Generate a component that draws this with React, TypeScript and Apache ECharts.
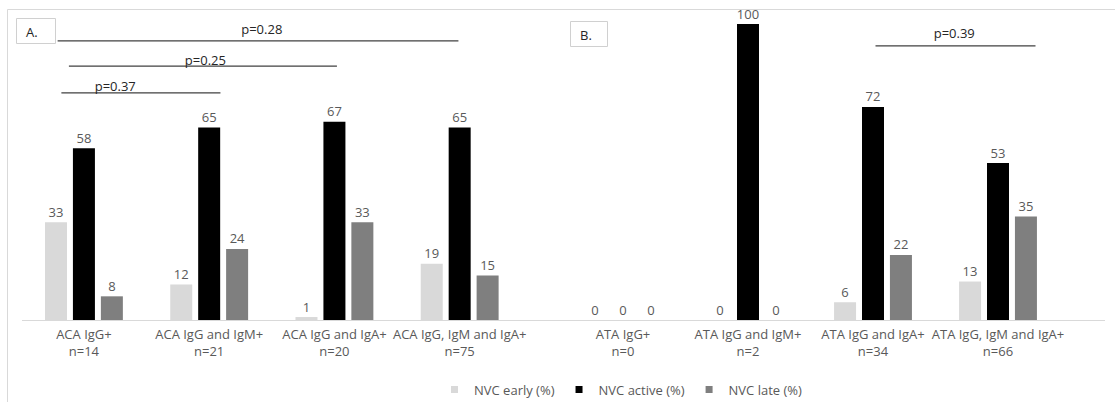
import React, { useEffect, useRef } from "react";
import * as echarts from "echarts";

const groupsA = ["ACA IgG+", "ACA IgG and IgM+", "ACA IgG and IgA+", "ACA IgG, IgM and IgA+"];
const countsA = [14, 21, 20, 75];
const groupsB = ["ATA IgG+", "ATA IgG and IgM+", "ATA IgG and IgA+", "ATA IgG, IgM and IgA+"];
const countsB = [0, 2, 34, 66];

const seriesNames = ["NVC early (%)", "NVC active (%)", "NVC late (%)"];
const earlyA = [33, 12, 1, 19];
const activeA = [58, 65, 67, 65];
const lateA = [8, 24, 33, 15];
const earlyB = [0, 0, 6, 13];
const activeB = [0, 100, 72, 53];
const lateB = [0, 0, 22, 35];

// significance annotations: panel, line from/to (category position), line level, label, label position
const pPanels = [0, 0, 0, 1];
const pFrom = [-0.21, -0.12, -0.18, 2.02];
const pTo = [2.99, 2.02, 1.09, 3.3];
const pLevel = [94.3, 85.8, 76.7, 92.6];
const pLabels = ["p=0.28", "p=0.25", "p=0.37", "p=0.39"];
const pLabelX = [1.42, 0.97, 0.25, 2.65];
const pLabelY = [98.3, 87.8, 79.0, 97.0];

const COLORS = ["#d9d9d9", "#000000", "#7f7f7f"];
const FONT = "'Open Sans', sans-serif";
const TXT = "#595959";

export default function App() {
  const ref = useRef<HTMLDivElement>(null);
  useEffect(() => {
    if (!ref.current) return;
    const chart = echarts.init(ref.current, undefined, { renderer: "svg" });
    const catsA = groupsA.map((g, i) => `${g}\nn=${countsA[i]}`);
    const catsB = groupsB.map((g, i) => `${g}\nn=${countsB[i]}`);
    const dataA = [earlyA, activeA, lateA];
    const dataB = [earlyB, activeB, lateB];

    const xAxisCommon = {
      type: "category" as const,
      axisLine: { show: false },
      axisTick: { show: false },
      axisLabel: {
        color: TXT,
        fontFamily: FONT,
        fontSize: 13,
        lineHeight: 17,
        margin: 5,
        interval: 0,
      },
    };
    const yAxisCommon = {
      type: "value" as const,
      min: 0,
      max: 100,
      show: false,
      splitLine: { show: false },
    };
    const label = {
      show: true,
      position: "top" as const,
      color: TXT,
      fontFamily: FONT,
      fontSize: 13,
      distance: 4,
    };

    const series: any[] = [];
    [dataA, dataB].forEach((d, g) => {
      d.forEach((vals, s) => {
        series.push({
          type: "bar",
          name: seriesNames[s],
          xAxisIndex: g,
          yAxisIndex: g,
          data: vals,
          barWidth: 22,
          barGap: "27%",
          itemStyle: { color: COLORS[s] },
          label,
        });
      });
    });

    chart.setOption({
      animation: false,
      backgroundColor: "#ffffff",
      textStyle: { fontFamily: FONT },
      grid: [
        { left: 21.3, width: 501, top: 24, bottom: 82 },
        { left: 560.5, width: 500, top: 24, bottom: 82 },
      ],
      xAxis: [
        { ...xAxisCommon, gridIndex: 0, data: catsA },
        { ...xAxisCommon, gridIndex: 1, data: catsB },
      ],
      yAxis: [
        { ...yAxisCommon, gridIndex: 0 },
        { ...yAxisCommon, gridIndex: 1 },
      ],
      legend: {
        data: seriesNames,
        left: 446,
        top: 378,
        itemWidth: 7,
        itemHeight: 7,
        itemGap: 21,
        icon: "rect",
        textStyle: { color: TXT, fontFamily: FONT, fontSize: 13, padding: [0, 0, 0, 11] },
      },
      series,
    });

    const toPx = (g: number, cat: number, v: number) => {
      const p0 = chart.convertToPixel({ gridIndex: g }, [0, v]) as number[];
      const p1 = chart.convertToPixel({ gridIndex: g }, [1, v]) as number[];
      return [p0[0] + cat * (p1[0] - p0[0]), p0[1]];
    };

    const graphic: any[] = [
      {
        type: "rect",
        shape: { x: 7.5, y: 9.5, width: 2000, height: 2000 },
        style: { fill: "none", stroke: "#d9d9d9", lineWidth: 1 },
        silent: true,
      },
    ];
    const base0 = chart.convertToPixel({ gridIndex: 0 }, [0, 0]) as number[];
    graphic.push({
      type: "line",
      shape: { x1: 22, y1: base0[1] + 0.5, x2: 1105, y2: base0[1] + 0.5 },
      style: { stroke: "#d9d9d9", lineWidth: 1 },
      silent: true,
    });
    // panel tag boxes
    const boxes = [
      { x: 16, y: 18, w: 39, h: 25, t: "A." },
      { x: 570, y: 21, w: 37, h: 25, t: "B." },
    ];
    boxes.forEach((b) => {
      graphic.push({
        type: "rect",
        shape: { x: b.x + 0.5, y: b.y + 0.5, width: b.w, height: b.h },
        style: { fill: "#ffffff", stroke: "#d0d0d0", lineWidth: 1 },
        silent: true,
      });
      graphic.push({
        type: "text",
        x: b.x + 10,
        y: b.y + b.h / 2 + 1,
        style: {
          text: b.t,
          fill: "#262626",
          font: `13px ${FONT}`,
          verticalAlign: "middle",
          align: "left",
        },
        silent: true,
      });
    });
    pLabels.forEach((lab, i) => {
      const g = pPanels[i];
      const a = toPx(g, pFrom[i], pLevel[i]);
      const b = toPx(g, pTo[i], pLevel[i]);
      const t = toPx(g, pLabelX[i], pLabelY[i]);
      graphic.push({
        type: "line",
        shape: { x1: a[0], y1: a[1], x2: b[0], y2: b[1] },
        style: { stroke: "#404040", lineWidth: 1.2 },
        silent: true,
      });
      graphic.push({
        type: "text",
        x: t[0],
        y: t[1],
        style: {
          text: lab,
          fill: "#262626",
          font: `13px ${FONT}`,
          align: "center",
          verticalAlign: "middle",
        },
        silent: true,
      });
    });
    chart.setOption({ graphic });

    return () => chart.dispose();
  }, []);
  return (
    <div
      ref={ref}
      style={{ position: "fixed", left: 0, top: 0, width: 1115, height: 402 }}
    />
  );
}
